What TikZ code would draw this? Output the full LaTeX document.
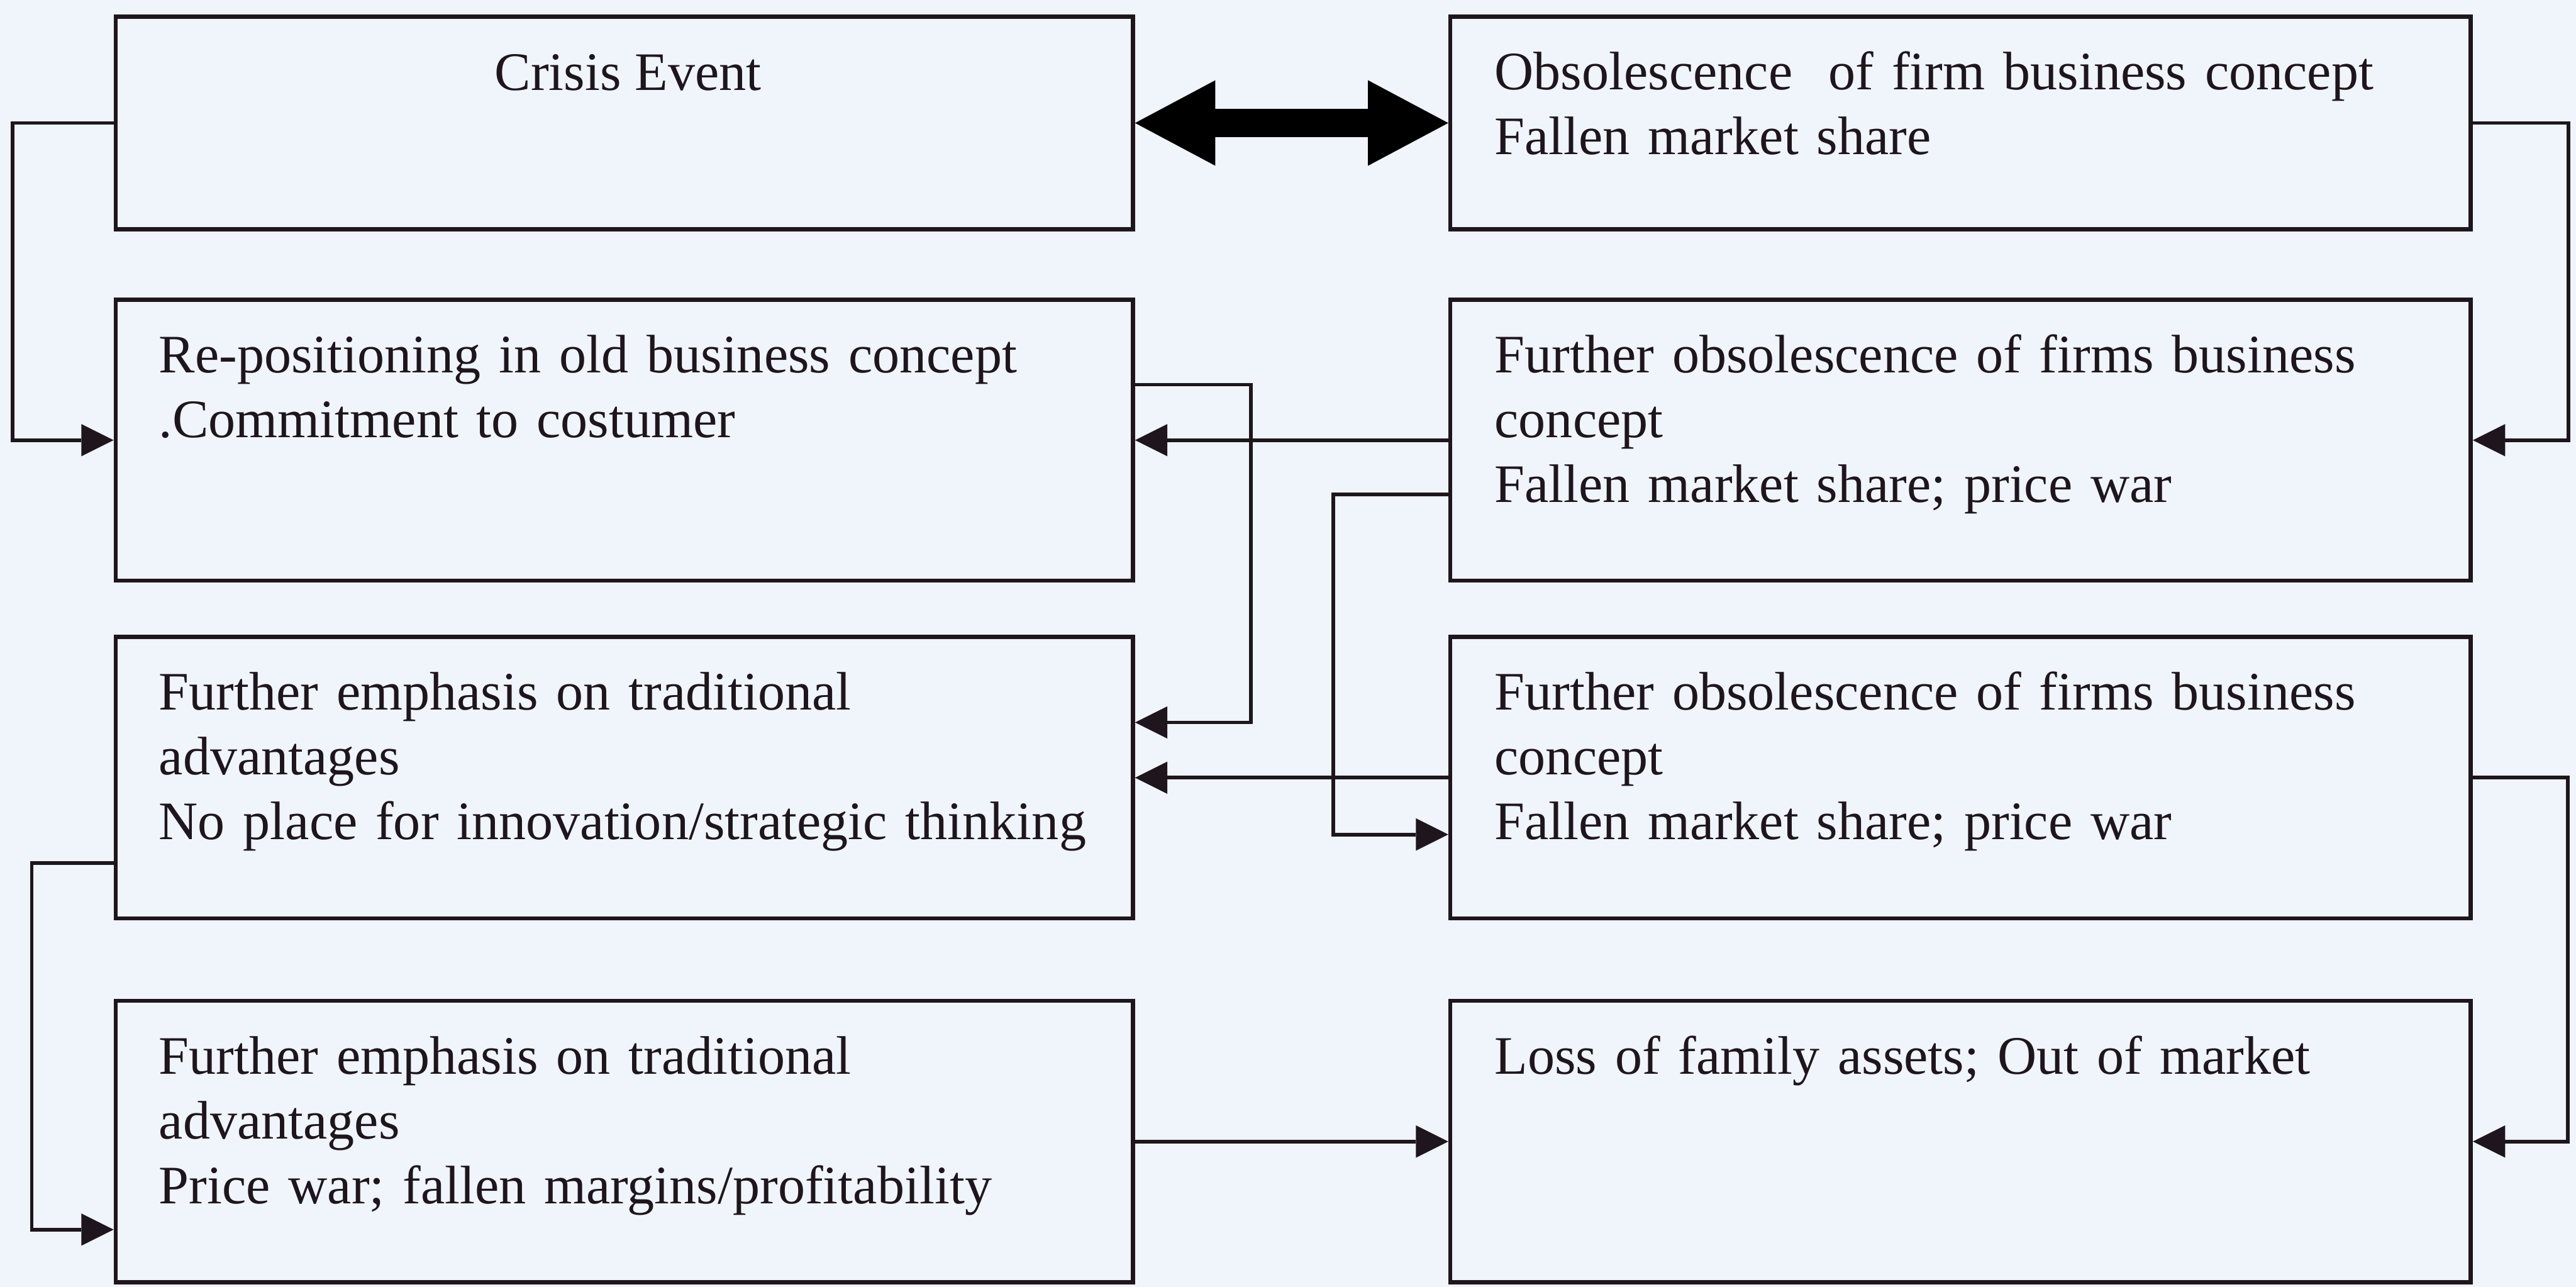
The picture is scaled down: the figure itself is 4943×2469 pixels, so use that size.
\documentclass[tikz,border=0pt]{standalone}
\usepackage{fontspec}
\setmainfont{Liberation Serif}
\usetikzlibrary{arrows.meta,fit}
\definecolor{paper}{RGB}{240,244,251}
\definecolor{ink}{RGB}{30,22,28}
\begin{document}
\begin{tikzpicture}[x=0.1pt,y=-0.1pt,
  box/.style={draw=ink, line width=0.8pt, inner sep=0pt, rectangle},
  txt/.style={anchor=base west, inner sep=0pt, align=left, text width=250pt,
    text=ink, font=\fontsize{10.4pt}{12.45pt}\selectfont},
  title/.style={anchor=base, inner sep=0pt, text=ink,
    font=\fontsize{10.4pt}{12.45pt}\selectfont},
  link/.style={draw=ink, line width=0.7pt,
    -{Triangle[length=6.2pt,width=6.2pt,line width=0pt]}},
  bigtip/.tip={Triangle[length=15.4pt,width=16.4pt,line width=0pt]},
  bothways/.style={draw=black, line width=5.5pt, bigtip-bigtip}]

% page
\fill[paper] (0,0) rectangle (4943,2469);
\useasboundingbox (0,0) rectangle (4943,2469);

% boxes: left column 222..2174, right column 2783..4741
\node[box, fit={(222,32) (2174,440)}]     (A) {};
\node[box, fit={(2783,32) (4741,440)}]    (B) {};
\node[box, fit={(222,575) (2174,1114)}]   (C) {};
\node[box, fit={(2783,575) (4741,1114)}]  (D) {};
\node[box, fit={(222,1222) (2174,1762)}]  (E) {};
\node[box, fit={(2783,1222) (4741,1762)}] (F) {};
\node[box, fit={(222,1920) (2174,2460)}]  (G) {};
\node[box, fit={(2783,1920) (4741,2460)}] (H) {};

% texts
\node[title] (tA) at (1205,173) {Crisis Event};
\node[txt] (tB) at (2866,172) {Obsolescence\ \ of firm business concept\\Fallen market share};
\node[txt] (tC) at (303,715) {Re-positioning in old business concept\\.Commitment to costumer};
\node[txt] (tD) at (2866,715) {Further obsolescence of firms business\\concept\\Fallen market share; price war};
\node[txt] (tE) at (303,1362) {Further emphasis on traditional\\advantages\\No place for innovation/strategic thinking};
\node[txt] (tF) at (2866,1362) {Further obsolescence of firms business\\concept\\Fallen market share; price war};
\node[txt] (tG) at (303,2060) {Further emphasis on traditional\\advantages\\Price war; fallen margins/profitability};
\node[txt] (tH) at (2866,2060) {Loss of family assets; Out of market};

% connectors
\draw[bothways] (A.east) -- (B.west);
\draw[link] (A.west) -- (24,236) |- (C.west);
\draw[link] (B.east) -- (4928,236) |- (D.east);
\draw[link] (D.west) -- (C.east |- D.west);
\draw[link] (C.east |- 0,738) -| (2400,1386) -- (E.east |- 0,1386);
\draw[link] (D.west |- 0,949) -| (2558,1601) -- (F.west |- 0,1601);
\draw[link] (F.west) -- (E.east |- F.west);
\draw[link] (E.west |- 0,1656) -| (61,2359) -- (G.west |- 0,2359);
\draw[link] (G.east) -- (H.west |- G.east);
\draw[link] (F.east) -- (4927,1492) |- (H.east);
\end{tikzpicture}
\end{document}
